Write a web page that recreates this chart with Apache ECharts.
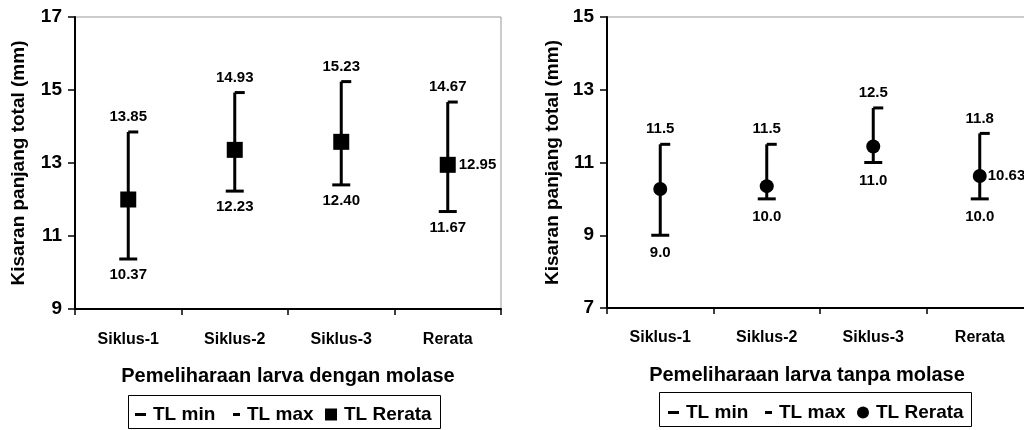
<!DOCTYPE html>
<html>
<head>
<meta charset="utf-8">
<script src="https://cdn.jsdelivr.net/npm/echarts@6/dist/echarts.min.js"></script>
<style>
html,body{margin:0;padding:0;background:#fff;overflow:hidden;width:1024px;height:430px;}
#c{width:1045px;height:430px;}
</style>
</head>
<body>
<div id="c"></div>
<script>
// ---- data ----
const categories = ['Siklus-1', 'Siklus-2', 'Siklus-3', 'Rerata'];
// with molasses (left)
const withMin  = [10.37, 12.23, 12.40, 11.67];
const withMax  = [13.85, 14.93, 15.23, 14.67];
const withMean = [12.00, 13.36, 13.58, 12.95];
// without molasses (right)
const withoutMin  = [9.0, 10.0, 11.0, 10.0];
const withoutMax  = [11.5, 11.5, 12.5, 11.8];
const withoutMean = [10.27, 10.35, 11.44, 10.63];
// axis ranges
const leftAxis  = {min: 9, max: 17, interval: 2};
const rightAxis = {min: 7, max: 15, interval: 2};
const yTitle = 'Kisaran panjang total (mm)';
const xTitleLeft = 'Pemeliharaan larva dengan molase';
const xTitleRight = 'Pemeliharaan larva tanpa molase';

const FONT = 'Liberation Sans, Arial, sans-serif';
const chart = echarts.init(document.getElementById('c'));

function renderRange(params, api) {
  const x = api.value(0);
  const lo = api.coord([x, api.value(1)]);
  const hi = api.coord([x, api.value(2)]);
  return {
    type: 'line',
    shape: {x1: lo[0], y1: lo[1], x2: hi[0], y2: hi[1]},
    style: {stroke: '#000', lineWidth: 3}
  };
}

function xAxisCfg(gridIndex, name, labelMargin, namePad) {
  return {
    type: 'category', gridIndex, data: categories, boundaryGap: true,
    axisLine: {lineStyle: {color: '#000', width: 2}},
    axisTick: {show: true, length: 6, interval: 0, lineStyle: {color: '#000', width: 1.5}},
    axisLabel: {color: '#000', fontSize: 16, fontWeight: 'bold', fontFamily: FONT, margin: labelMargin, interval: 0},
    name, nameLocation: 'middle', nameGap: 57,
    nameTextStyle: {color: '#000', fontSize: 20, fontWeight: 'bold', fontFamily: FONT, padding: namePad},
    splitLine: {show: false}
  };
}
function yAxisCfg(gridIndex, rng, nameGap) {
  return {
    type: 'value', gridIndex, min: rng.min, max: rng.max, interval: rng.interval,
    axisLine: {show: true, lineStyle: {color: '#000', width: 2}},
    axisTick: {show: true, length: 7, lineStyle: {color: '#000', width: 1.5}},
    axisLabel: {color: '#000', fontSize: 19, fontWeight: 'bold', fontFamily: FONT, margin: 13},
    splitLine: {show: false},
    name: yTitle, nameLocation: 'middle', nameGap, nameRotate: 90,
    nameTextStyle: {color: '#000', fontSize: 19, fontWeight: 'bold', fontFamily: FONT}
  };
}

const lblBase = {color: '#000', fontSize: 15, fontWeight: 'bold', fontFamily: FONT};

function seriesFor(idx, mins, maxs, means, decimals, meanSymbol, meanSize, minDist, meanDist) {
  const rangeData = categories.map((c, i) => [i, mins[i], maxs[i]]);
  const minData = categories.map((c, i) => [i, mins[i]]);
  const maxData = categories.map((c, i) => [i, maxs[i]]);
  const meanData = categories.map((c, i) => ({
    value: [i, means[i]],
    label: {show: i === categories.length - 1}
  }));
  return [
    {
      type: 'custom', name: 'range', xAxisIndex: idx, yAxisIndex: idx,
      renderItem: renderRange, data: rangeData, z: 1, silent: true, clip: false
    },
    {
      type: 'scatter', name: 'TL min', xAxisIndex: idx, yAxisIndex: idx,
      data: minData, symbol: 'rect', symbolSize: [18, 3], z: 2,
      itemStyle: {color: '#000', opacity: 1},
      label: Object.assign({show: true, position: 'bottom', distance: minDist,
        formatter: p => p.value[1].toFixed(decimals)}, lblBase)
    },
    {
      type: 'scatter', name: 'TL max', xAxisIndex: idx, yAxisIndex: idx,
      data: maxData, symbol: 'rect', symbolSize: [10, 3], symbolOffset: [5, 0], z: 2,
      itemStyle: {color: '#000', opacity: 1},
      label: Object.assign({show: true, position: 'top', distance: 6, offset: [-5, 0],
        formatter: p => p.value[1].toFixed(decimals)}, lblBase)
    },
    {
      type: 'scatter', name: 'TL Rerata', xAxisIndex: idx, yAxisIndex: idx,
      data: meanData, symbol: meanSymbol, symbolSize: meanSize, z: 3,
      itemStyle: {color: '#000', opacity: 1},
      label: Object.assign({position: 'right', distance: meanDist,
        formatter: p => p.value[1].toFixed(2)}, lblBase)
    }
  ];
}

function legendItem(name, icon, left, top, w, h) {
  return {
    data: [{name, icon}], left, top, orient: 'horizontal', padding: 0,
    itemWidth: w, itemHeight: h, itemGap: 0, selectedMode: false,
    textStyle: {color: '#000', fontSize: 19, fontWeight: 'bold', fontFamily: FONT, padding: [0, 0, 0, 2]}
  };
}

const option = {
  backgroundColor: '#fff',
  animation: false,
  grid: [
    {left: 75, top: 17, width: 426, height: 292, show: true, borderColor: '#999', borderWidth: 1},
    {left: 607, top: 17, width: 426, height: 291, show: true, borderColor: '#999', borderWidth: 1}
  ],
  xAxis: [xAxisCfg(0, xTitleLeft, 23, 0), xAxisCfg(1, xTitleRight, 22, [0, 26, 0, 0])],
  yAxis: [yAxisCfg(0, leftAxis, 47), yAxisCfg(1, rightAxis, 45)],
  legend: [
    legendItem('TL min', 'rect', 135, 405, 11, 3),
    legendItem('TL max', 'rect', 233, 405, 7, 3),
    legendItem('TL Rerata', 'rect', 325, 405, 12, 12),
    legendItem('TL min', 'rect', 668, 403, 11, 3),
    legendItem('TL max', 'rect', 765, 403, 7, 3),
    legendItem('TL Rerata', 'circle', 857, 403, 12, 12)
  ],
  graphic: [
    {type: 'rect', shape: {x: 128.5, y: 395.5, width: 312, height: 33}, style: {fill: 'none', stroke: '#000', lineWidth: 1}},
    {type: 'rect', shape: {x: 659.5, y: 392.5, width: 312, height: 34}, style: {fill: 'none', stroke: '#000', lineWidth: 1}}
  ],
  series: [].concat(
    seriesFor(0, withMin, withMax, withMean, 2, 'rect', 16, 7, 3),
    seriesFor(1, withoutMin, withoutMax, withoutMean, 1, 'circle', 14, 9, 1)
  )
};
chart.setOption(option);
</script>
</body>
</html>
